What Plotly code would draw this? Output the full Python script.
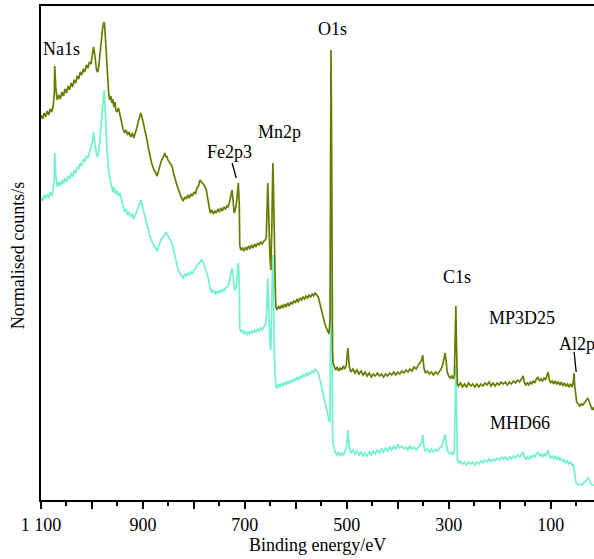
import plotly.graph_objects as go

# ---- MP3D25 (olive) : binding energy (eV), normalised counts ----
mp_pairs = [
(1100,385),(1097,381),(1094,387),(1091,383),(1088,389),(1085,385),(1082,391),(1079,388),(1076,394),(1074,405),
(1073,434),(1071,412),(1068,400),(1065,405),(1062,401),(1059,408),(1056,404),(1053,411),(1050,407),(1047,414),
(1044,410),(1041,417),(1038,413),(1035,420),(1032,417),(1029,424),(1026,421),(1023,428),(1020,425),(1017,431),
(1014,428),(1011,435),(1008,432),(1005,438),(1002,436),(999,445),(997,453),(995,447),(993,438),(991,430),
(989,428),(987,432),(985,442),(983,455),(981,466),(979,472),(977,477),(976,478),(975,474),(973,458),
(971,438),(969,418),(967,405),(965,400),(963,404),(961,397),(959,401),(957,393),(955,398),(953,390),
(951,388),(948,392),(945,384),(942,377),(939,371),(936,367),(933,370),(930,365),(927,368),(924,363),
(921,367),(918,362),(915,366),(912,372),(909,379),(906,384),(904,387),(901,381),(898,375),(895,368),
(892,360),(889,351),(886,343),(883,337),(880,332),(877,329),(874,326),(872,324),(869,330),(867,335),
(864,339),(861,342),(859,345),(857,347),(855,343),(853,344),(851,340),(848,338),(845,336),(843,334),
(840,327),(837,320),(834,316),(831,311),(829,309),(826,304),(823,301),(821,299),(818,303),(815,301),
(812,305),(809,302),(806,306),(803,304),(800,308),(797,306),(794,312),(791,314),(788,320),(785,318),
(782,317),(779,314),(776,311),(774,306),(772,300),(770,293),(768,287),(765,290),(762,286),(759,289),
(756,287),(753,291),(750,288),(747,292),(744,289),(741,293),(738,291),(735,294),(733,293),(731,296),
(729,300),(727,306),(725,310),(723,298),(721,287),(719,290),(717,295),(715,305),(713,317),(712,308),
(711,295),(710,255),(708,250),(705,252),(702,249),(699,253),(696,250),(693,254),(690,251),(687,255),
(684,252),(681,256),(678,253),(675,257),(672,255),(669,258),(666,256),(663,259),(660,260),(658,263),
(656,290),(655,317),(654,300),(653,270),(651,245),(649,230),(648,245),(647,275),(646,310),(645,337),
(644,315),(643,280),(642,240),(640,205),(639,193),(637,190),(634,194),(631,191),(628,195),(625,192),
(622,196),(619,193),(616,197),(613,194),(610,198),(607,196),(604,199),(601,197),(598,201),(595,198),
(592,202),(589,200),(586,203),(583,201),(580,204),(577,202),(574,205),(571,203),(568,206),(565,204),
(562,207),(559,205),(556,203),(553,197),(550,190),(547,184),(544,178),(541,173),(539,170),(537,168),
(535,166),(533,180),(532,300),(531,450),(530,380),(529,220),(528,150),(527,137),(525,133),(522,130),
(519,133),(516,129),(513,132),(510,130),(507,134),(504,131),(501,135),(499,145),(498,152),(497,146),
(495,133),(492,128),(488,131),(484,127),(480,130),(476,126),(472,129),(468,125),(464,128),(460,124),
(456,127),(452,123),(448,126),(444,124),(440,127),(436,124),(432,126),(428,123),(424,126),(420,124),
(416,127),(412,125),(408,128),(404,125),(400,128),(396,126),(392,129),(388,127),(384,130),(380,128),
(376,131),(372,129),(368,133),(364,131),(360,134),(356,137),(353,140),(351,145),(349,133),(346,127),
(342,129),(338,126),(334,128),(330,125),(326,128),(322,126),(318,129),(315,131),(312,135),(310,139),
(308,145),(307,147),(305,138),(303,128),(300,124),(297,122),(294,124),(291,121),(289,125),(288,150),
(287,180),(286,194),(285,160),(284,125),(283,116),(281,114),(277,117),(273,113),(269,116),(265,113),
(261,117),(257,114),(253,116),(249,113),(245,116),(241,113),(237,116),(233,114),(229,117),(225,115),
(221,118),(217,114),(213,117),(209,114),(205,117),(201,115),(197,118),(193,116),(189,118),(185,115),
(181,118),(177,116),(173,119),(169,117),(165,120),(161,118),(157,121),(154,124),(152,118),(149,115),
(146,117),(143,115),(140,118),(137,116),(134,119),(131,117),(128,121),(125,123),(122,119),(119,121),
(116,119),(113,122),(110,120),(107,124),(105,128),(103,121),(100,117),(97,119),(94,116),(91,119),
(88,116),(85,118),(82,115),(79,118),(76,114),(73,117),(70,114),(67,116),(64,113),(61,116),
(58,113),(56,117),(55,122),(54,127),(53,115),(51,103),(49,98),(46,96),(43,94),(40,96),
(37,95),(34,97),(31,99),(29,101),(27,102),(25,99),(22,94),(19,91),(17,92),(15,90),
]

# ---- MHD66 (aquamarine) ----
mhd_pairs = [
(1100,303),(1097,299),(1094,305),(1091,301),(1088,306),(1085,302),(1082,308),(1079,304),(1076,310),(1074,322),
(1073,347),(1071,325),(1068,313),(1065,318),(1062,314),(1059,320),(1056,316),(1053,322),(1050,318),(1047,324),
(1044,321),(1041,327),(1038,323),(1035,330),(1032,327),(1029,333),(1026,331),(1023,337),(1020,334),(1017,341),
(1014,338),(1011,344),(1008,342),(1005,348),(1002,351),(999,358),(997,368),(995,362),(993,352),(991,345),
(989,343),(987,348),(985,356),(983,370),(981,385),(979,396),(977,406),(976,410),(975,403),(973,380),
(971,355),(969,336),(967,327),(965,322),(963,316),(961,312),(959,308),(957,313),(955,309),(953,306),
(951,309),(948,304),(945,307),(942,300),(939,293),(936,288),(933,291),(930,285),(927,288),(924,283),
(921,286),(918,281),(915,285),(912,289),(909,294),(906,298),(904,300),(901,294),(898,288),(895,283),
(892,275),(889,268),(886,263),(883,259),(880,256),(877,253),(874,250),(872,249),(869,254),(867,258),
(864,261),(861,262),(859,265),(857,266),(855,268),(853,266),(851,264),(848,262),(845,259),(843,257),
(840,250),(837,243),(834,236),(831,230),(829,228),(826,225),(823,223),(821,222),(818,226),(815,224),
(812,227),(809,225),(806,228),(803,226),(800,230),(797,231),(794,235),(791,236),(788,238),(785,240),
(782,238),(779,234),(776,230),(774,226),(772,222),(770,216),(768,211),(765,208),(762,210),(759,206),
(756,209),(753,206),(750,210),(747,207),(744,211),(741,209),(738,212),(735,213),(733,214),(731,217),
(729,222),(727,228),(725,232),(723,225),(721,212),(719,210),(717,214),(715,224),(713,237),(712,230),
(711,215),(710,172),(708,168),(705,170),(702,166),(699,169),(696,165),(693,168),(690,166),(687,169),
(684,167),(681,170),(678,168),(675,171),(672,169),(669,172),(666,170),(663,173),(660,175),(658,180),
(656,205),(655,222),(654,205),(653,175),(651,158),(649,150),(648,165),(647,200),(646,230),(645,245),
(644,215),(643,170),(642,140),(640,120),(639,113),(637,112),(634,116),(631,113),(628,117),(625,114),
(622,118),(619,115),(616,119),(613,116),(610,120),(607,118),(604,121),(601,119),(598,123),(595,120),
(592,124),(589,122),(586,125),(583,123),(580,127),(577,124),(574,128),(571,126),(568,129),(565,127),
(562,131),(559,129),(556,127),(553,121),(550,114),(547,110),(544,102),(541,95),(539,90),(537,85),
(535,80),(533,78),(532,160),(531,300),(530,250),(529,120),(528,70),(527,56),(525,51),(522,47),
(519,45),(516,48),(513,44),(510,47),(507,45),(504,48),(501,52),(499,62),(498,70),(497,63),
(495,52),(492,47),(488,50),(484,46),(480,49),(476,45),(472,48),(468,44),(464,47),(460,44),
(456,48),(452,45),(448,49),(444,46),(440,50),(436,47),(432,51),(428,48),(424,52),(420,49),
(416,53),(412,50),(408,54),(404,51),(400,55),(396,52),(392,54),(388,51),(384,53),(380,50),
(376,54),(372,51),(368,53),(364,50),(360,52),(356,55),(353,58),(351,65),(349,54),(346,49),
(342,51),(338,48),(334,51),(330,48),(326,51),(322,49),(318,52),(315,53),(312,56),(310,60),
(308,64),(307,66),(305,58),(303,50),(300,47),(297,46),(294,48),(291,45),(289,50),(288,90),
(287,120),(286,135),(285,100),(284,55),(283,40),(281,37),(277,39),(273,36),(269,38),(265,35),
(261,38),(257,36),(253,38),(249,35),(245,38),(241,36),(237,39),(233,37),(229,40),(225,38),
(221,41),(217,38),(213,41),(209,39),(205,42),(201,40),(197,43),(193,41),(189,43),(185,40),
(181,43),(177,41),(173,44),(169,42),(165,45),(161,43),(157,46),(154,48),(152,43),(149,41),
(146,43),(143,41),(140,44),(137,42),(134,45),(131,43),(128,46),(125,48),(122,44),(119,46),
(116,43),(113,46),(110,44),(107,47),(105,50),(103,45),(100,42),(97,44),(94,41),(91,44),
(88,41),(85,43),(82,40),(79,42),(76,38),(73,40),(70,37),(67,39),(64,36),(61,38),
(58,35),(56,36),(54,30),(52,22),(50,17),(48,16),(45,15),(42,16),(39,15),(36,17),
(33,18),(30,20),(28,22),(26,22),(24,19),(21,16),(18,15),(15,15),
]

mp_energy = [p[0] for p in mp_pairs]
mp_counts = [p[1] for p in mp_pairs]
mhd_energy = [p[0] for p in mhd_pairs]
mhd_counts = [p[1] for p in mhd_pairs]

# peak labels: text, energy, counts
label_text = ["Na1s", "O1s", "Mn2p", "Fe2p3", "C1s", "MP3D25", "MHD66"]
label_energy = [1059, 529, 633, 731, 284, 156, 160]
label_counts = [451, 471, 368, 348, 223, 182, 77]

tick_vals = [1100, 1000, 900, 800, 700, 600, 500, 400, 300, 200, 100]
tick_text = ["1 100", "", "900", "", "700", "", "500", "", "300", "", "100"]
minor_vals = [1050, 950, 850, 750, 650, 550, 450, 350, 250, 150, 50]

OLIVE = "#6b7b00"
AQUA = "#6ff2cf"
FONT = "Liberation Serif"

fig = go.Figure()
fig.add_trace(go.Scatter(x=mhd_energy, y=mhd_counts, mode="lines",
                         line=dict(color=AQUA, width=1.7), showlegend=False))
fig.add_trace(go.Scatter(x=mp_energy, y=mp_counts, mode="lines",
                         line=dict(color=OLIVE, width=1.7), showlegend=False))

for t, e, c in zip(label_text, label_energy, label_counts):
    fig.add_annotation(x=e, y=c, xref="x", yref="y", text=t, showarrow=False,
                       font=dict(family=FONT, size=18, color="black"),
                       xanchor="center", yanchor="middle")
fig.add_annotation(x=87, y=156, xref="x", yref="y", text="Al2p", showarrow=False,
                   font=dict(family=FONT, size=18, color="black"),
                   xanchor="left", yanchor="middle")

# leader lines
fig.add_shape(type="line", x0=725, y0=337, x1=717, y1=322, xref="x", yref="y",
              line=dict(color="black", width=1.3))
fig.add_shape(type="line", x0=54, y0=148, x1=50, y1=128, xref="x", yref="y",
              line=dict(color="black", width=1.3))

# axis titles
fig.add_annotation(x=-0.041, y=0.494, xref="paper", yref="paper",
                   text="Normalised counts/s", textangle=-90, showarrow=False,
                   font=dict(family=FONT, size=18, color="black"),
                   xanchor="center", yanchor="middle")
fig.add_annotation(x=0.5, y=-0.091, xref="paper", yref="paper",
                   text="Binding energy/eV", showarrow=False,
                   font=dict(family=FONT, size=18, color="black"),
                   xanchor="center", yanchor="middle")

fig.update_xaxes(range=[1100, 15], tickmode="array", tickvals=tick_vals, ticktext=tick_text,
                 ticks="outside", ticklen=7, tickwidth=1.5, tickcolor="black",
                 showline=True, linecolor="black", linewidth=2, mirror=True,
                 showgrid=False, zeroline=False,
                 tickfont=dict(family=FONT, size=18, color="black"),
                 minor=dict(tickvals=minor_vals, ticks="outside", ticklen=4,
                            tickwidth=1.5, tickcolor="black", showgrid=False))
fig.update_yaxes(range=[0, 494], showticklabels=False, ticks="",
                 showline=True, linecolor="black", linewidth=2, mirror=False,
                 showgrid=False, zeroline=False)

fig.update_layout(width=594, height=559, margin=dict(l=41, r=0, t=6, b=59),
                  paper_bgcolor="white", plot_bgcolor="white",
                  font=dict(family=FONT, size=18, color="black"))

fig.write_html("out.html")
